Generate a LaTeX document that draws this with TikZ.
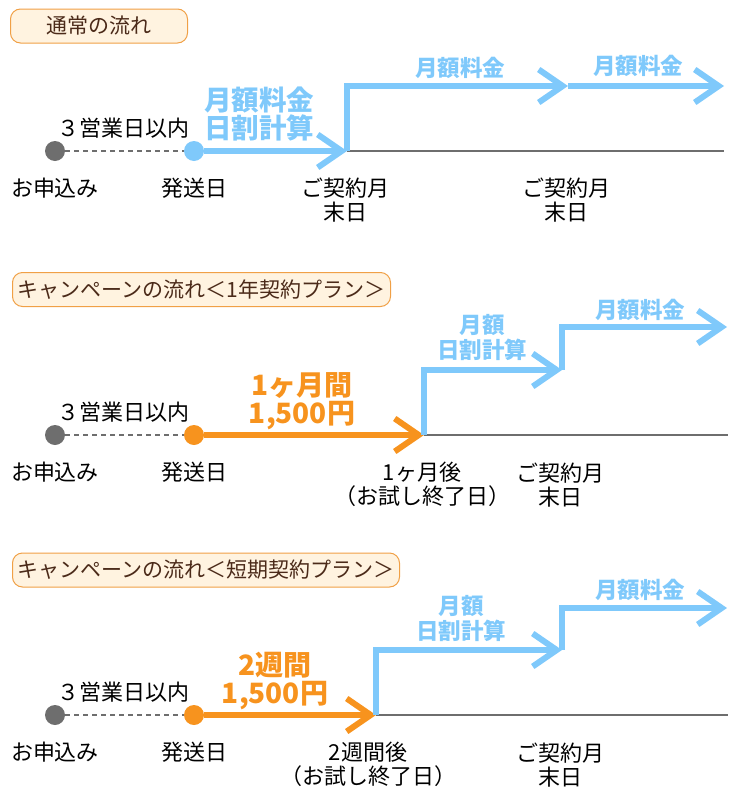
\documentclass[tikz,border=0pt]{standalone}
\usepackage{fontspec}
\setmainfont{Noto Sans CJK JP}
\usetikzlibrary{arrows.meta}
\definecolor{skyblue}{HTML}{7FC9FB}
\definecolor{warmorange}{HTML}{F7931E}
\definecolor{linegray}{HTML}{6E6E6E}
\definecolor{ttlfill}{HTML}{FFF3E0}
\definecolor{ttledge}{HTML}{F0A046}
\definecolor{ttltext}{HTML}{4B2A19}

\begin{document}
\begin{tikzpicture}[
  x=1pt, y=-1pt,
  ttl/.style={draw=ttledge, fill=ttlfill, rounded corners=10pt, line width=1pt,
              text=ttltext, font=\fontsize{21}{24}\selectfont,
              minimum height=34pt, inner xsep=5pt, anchor=west},
  lbl/.style={font=\fontsize{22}{24}\selectfont, align=center, inner sep=0},
  blbl/.style={skyblue, font=\bfseries\fontsize{22.5}{25}\selectfont, align=center, inner sep=0},
  bigblbl/.style={skyblue, font=\bfseries\fontsize{27.5}{28}\selectfont, align=center, inner sep=0},
  olbl/.style={warmorange, font=\bfseries\fontsize{28}{28}\selectfont, align=center, inner sep=0},
  dot/.style={circle, inner sep=0, minimum size=20pt},
  base/.style={draw=linegray, line width=2pt},
  wait/.style={draw=linegray, line width=1.6pt, dash pattern=on 5pt off 4pt},
  flowb/.style={skyblue, line width=6pt, -{Straight Barb[length=24pt, width=33pt]}},
  flowo/.style={warmorange, line width=6pt, -{Straight Barb[length=24pt, width=33pt]}},
]
\useasboundingbox (0,0) rectangle (739,798);

% ---- section titles ----
\node[ttl, minimum width=177pt] (ttl1) at (10,26) {通常の流れ};
\node[ttl, minimum width=378pt] (ttl2) at (12,289.5) {キャンペーンの流れ＜1年契約プラン＞};
\node[ttl, minimum width=387pt] (ttl3) at (12,570) {キャンペーンの流れ＜短期契約プラン＞};

% ---- application -> shipping, common to all three ----
\foreach \n/\y/\c in {1/151/skyblue, 2/435/warmorange, 3/715/warmorange}{
  \node[dot, fill=linegray] (ap\n) at (55,\y) {};
  \node[dot, fill=\c] (sd\n) at (194,\y) {};
  \draw[wait] (ap\n) -- (sd\n);
  \node[lbl] (apl\n) at (55,\y+37) {お申込み};
  \node[lbl] (sdl\n) at (194,\y+37) {発送日};
  \node[lbl] (bd\n) at (123,\y-23) {３営業日以内};
}

% ---- normal flow ----
\coordinate (t1) at (347,151);
\coordinate (e1) at (724,151);
\coordinate (m1) at (568,86);
\coordinate (f1) at (724,86);
\draw[base] (t1) -- (e1);
\draw[flowb] (sd1) -- (t1);
\draw[flowb] (t1) |- (m1);
\draw[flowb] (m1) -- (f1);
\node[bigblbl] (pr1) at (259,114) {月額料金\\日割計算};
\node[blbl] (mfa1) at (460,68) {月額料金};
\node[blbl] (mfb1) at (638,66) {月額料金};
\node[lbl] (cea1) at (345,200) {ご契約月\\末日};
\node[lbl] (ceb1) at (566,200) {ご契約月\\末日};

% ---- campaign, 1-year plan ----
\coordinate (t2) at (424,435);
\coordinate (e2) at (728,435);
\coordinate (m2) at (562,370);
\coordinate (f2) at (727,327);
\draw[base] (t2) -- (e2);
\draw[flowo] (sd2) -- (t2);
\draw[flowb] (t2) |- (m2);
\draw[flowb] (m2) |- (f2);
\node[olbl] (tr2) at (302,401) {1ヶ月間\\1,500円};
\node[blbl] (pr2) at (482,337.5) {月額\\日割計算};
\node[blbl] (mf2) at (640,310) {月額料金};
\node[lbl] (te2) at (422,484) {1ヶ月後\\（お試し終了日）};
\node[lbl] (ce2) at (560,485) {ご契約月\\末日};

% ---- campaign, short-term plan ----
\coordinate (t3) at (376,715);
\coordinate (e3) at (728,715);
\coordinate (m3) at (562,650);
\coordinate (f3) at (727,608);
\draw[base] (t3) -- (e3);
\draw[flowo] (sd3) -- (t3);
\draw[flowb] (t3) |- (m3);
\draw[flowb] (m3) |- (f3);
\node[olbl] (tr3) at (275,681) {2週間\\1,500円};
\node[blbl] (pr3) at (461,618) {月額\\日割計算};
\node[blbl] (mf3) at (640,590) {月額料金};
\node[lbl] (te3) at (368,764) {2週間後\\（お試し終了日）};
\node[lbl] (ce3) at (560,765) {ご契約月\\末日};

\end{tikzpicture}
\end{document}
